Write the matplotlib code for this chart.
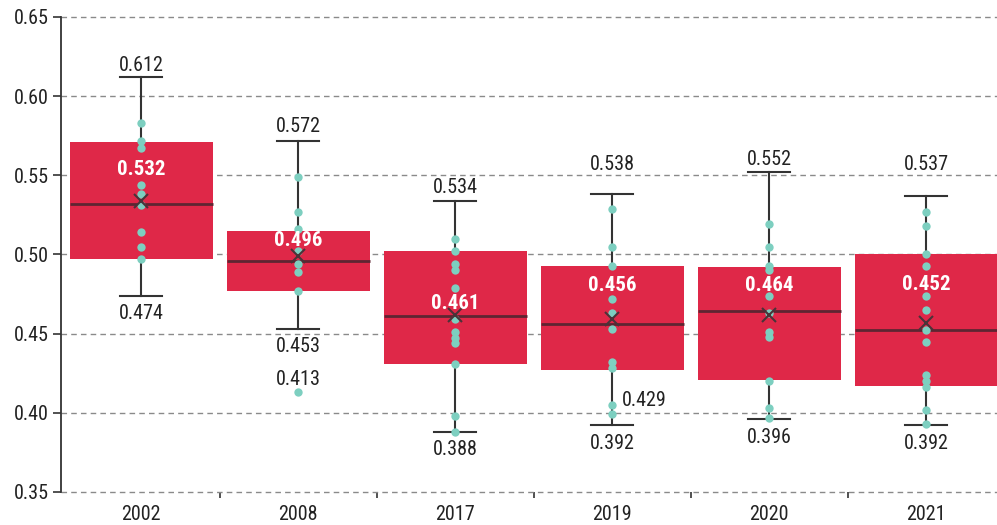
import matplotlib.pyplot as plt
from matplotlib import font_manager
from matplotlib.ticker import FixedLocator, MultipleLocator

# pick a narrow face if one is installed
names = set(f.name for f in font_manager.fontManager.ttflist)
narrow = [n for n in ['Roboto Condensed', 'Liberation Sans Narrow', 'Open Sans Condensed',
                      'Noto Sans Condensed', 'DejaVu Sans Condensed'] if n in names]
plt.rcParams['font.family'] = narrow + ['DejaVu Sans']
plt.rcParams['font.stretch'] = 'condensed'

# box statistics
years = ['2002', '2008', '2017', '2019', '2020', '2021']
whis_lo = [0.474, 0.453, 0.388, 0.392, 0.396, 0.392]
q1 = [0.497, 0.477, 0.431, 0.427, 0.421, 0.417]
medians = [0.532, 0.496, 0.461, 0.456, 0.464, 0.452]
q3 = [0.571, 0.515, 0.502, 0.493, 0.492, 0.500]
whis_hi = [0.612, 0.572, 0.534, 0.538, 0.552, 0.537]
means = [0.534, 0.499, 0.462, 0.459, 0.462, 0.457]

# individual points (teal dots)
pts_2002 = [0.583, 0.572, 0.567, 0.544, 0.538, 0.531, 0.514, 0.505, 0.497]
pts_2008 = [0.549, 0.527, 0.516, 0.502, 0.494, 0.489, 0.477, 0.413]
pts_2017 = [0.510, 0.502, 0.494, 0.490, 0.479, 0.459, 0.451, 0.447, 0.444,
            0.431, 0.398, 0.388]
pts_2019 = [0.529, 0.505, 0.493, 0.472, 0.463, 0.453, 0.432, 0.428, 0.405, 0.399]
pts_2020 = [0.519, 0.505, 0.493, 0.490, 0.474, 0.463, 0.451, 0.448, 0.420,
            0.403, 0.397]
pts_2021 = [0.527, 0.518, 0.500, 0.493, 0.474, 0.465, 0.452, 0.445, 0.424,
            0.420, 0.416, 0.402, 0.393]
points = [pts_2002, pts_2008, pts_2017, pts_2019, pts_2020, pts_2021]

# extra label on the 2019 box
extra_label = '0.429'

# label placement (pixels above/below the value they belong to)
top_off = [12, 14, 13, 30, 13, 31]
med_off = [34, 20, 13, 39, 26, 46]
bot_off = 18

box_red = '#DF2848'
teal = '#7DCFC0'
dark = '#333333'
fs = 14.5

fig = plt.figure(figsize=(9.97, 5.25), dpi=100)
ax = fig.add_axes([61 / 997, 33 / 525, 936 / 997, 475 / 525])

stats = []
for i in range(len(years)):
    stats.append({'whislo': whis_lo[i], 'q1': q1[i], 'med': medians[i],
                  'q3': q3[i], 'whishi': whis_hi[i], 'mean': means[i],
                  'fliers': [], 'label': years[i]})

ax.bxp(stats, positions=range(len(years)), widths=0.91, patch_artist=True,
       showmeans=False, showfliers=False,
       boxprops=dict(facecolor=box_red, edgecolor='none'),
       medianprops=dict(color='#5E2532', lw=2),
       whiskerprops=dict(color=dark, lw=1.5),
       capprops=dict(color=dark, lw=1.5),
       capwidths=0.27,
       zorder=2)

for i, pts in enumerate(points):
    ax.plot([i] * len(pts), pts, 'o', color=teal, markersize=6,
            markeredgewidth=0, zorder=3)

# mean markers over the dots
ax.plot(range(len(years)), means, 'x', color='#4A3338', markersize=10,
        markeredgewidth=1.5, zorder=4)

for i in range(len(years)):
    ax.annotate(f'{whis_hi[i]:.3f}', (i, whis_hi[i]), xytext=(0, top_off[i]),
                textcoords='offset pixels', ha='center', va='center',
                fontsize=fs, color='#222222')
    ax.annotate(f'{whis_lo[i]:.3f}', (i, whis_lo[i]), xytext=(0, -bot_off),
                textcoords='offset pixels', ha='center', va='center',
                fontsize=fs, color='#222222')
    ax.annotate(f'{medians[i]:.3f}', (i, medians[i]), xytext=(0, med_off[i]),
                textcoords='offset pixels', ha='center', va='center',
                fontsize=fs + 0.5, color='white', fontweight='bold', zorder=5)

# outlier label for 2008 and the extra one for 2019
ax.annotate(f'{min(pts_2008):.3f}', (1, min(pts_2008)), xytext=(0, 13),
            textcoords='offset pixels', ha='center', va='center',
            fontsize=fs, color='#222222')
ax.annotate(extra_label, (3, pts_2019[-2]), xytext=(10, 4),
            textcoords='offset pixels', ha='left', va='center',
            fontsize=fs, color='#222222')

ax.set_xlim(-0.51, -0.51 + 936 / 157)
ax.set_ylim(0.35, 0.65)
ax.yaxis.set_major_locator(MultipleLocator(0.05))
ax.set_yticklabels([f'{v:.2f}' for v in ax.get_yticks()])
ax.set_xticks(range(len(years)))
ax.set_xticklabels(years)
ax.xaxis.set_minor_locator(FixedLocator([0.5, 1.5, 2.5, 3.5, 4.5]))

ax.grid(axis='y', color='#8A8A8A', linestyle=(0, (4, 3)), lw=1)
for gl in ax.get_ygridlines():
    gl.set_clip_on(False)
ax.set_axisbelow(True)
for s in ['top', 'right', 'bottom']:
    ax.spines[s].set_visible(False)
ax.spines['left'].set_color(dark)
ax.spines['left'].set_linewidth(1.3)

ax.tick_params(axis='y', labelsize=fs, length=6, width=1.2, color=dark,
               labelcolor='#222222', pad=3)
ax.tick_params(axis='x', which='major', length=0, labelsize=fs,
               labelcolor='#222222', pad=9)
ax.tick_params(axis='x', which='minor', length=4, width=1.2, color=dark)

fig.savefig('out.png', dpi=100)
